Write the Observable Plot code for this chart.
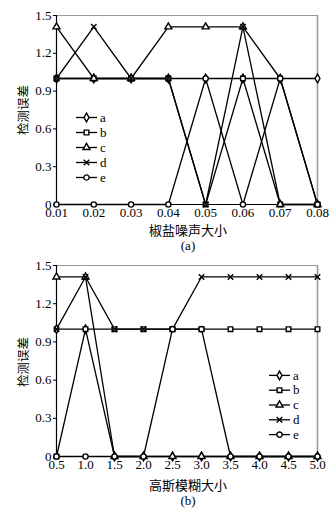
<!DOCTYPE html>
<html><head><meta charset="utf-8">
<script src="https://cdn.jsdelivr.net/npm/d3@7"></script>
<script src="https://cdn.jsdelivr.net/npm/@observablehq/plot@0.6"></script>
<style>
body{margin:0;background:#fff;}
#wrap{position:relative;width:335px;height:509px;font-family:"Liberation Serif","Times New Roman","DejaVu Serif",serif;color:#000;overflow:hidden;}
.panel{position:absolute;left:0;}
.cap{position:absolute;font-size:13px;white-space:nowrap;transform:translate(-50%,-50%);line-height:1;}
.ylab{position:absolute;font-size:12.5px;white-space:nowrap;transform:translate(-50%,-50%) rotate(-90deg);line-height:1;font-family:"Noto Sans CJK SC",sans-serif;}
.zh{font-family:"Noto Sans CJK SC",sans-serif;}
.leg{position:absolute;}
svg text{font-family:"Liberation Serif","Times New Roman","DejaVu Serif",serif;}
</style>
</head><body>
<div id="wrap"></div>
<script>
// ---- data ----
const seriesNames = ["a", "b", "c", "d", "e"];
const seriesSymbols = ["diamond", "square", "triangle", "times", "circle"];

// panel (a): salt & pepper noise level
const xA = [0.01, 0.02, 0.03, 0.04, 0.05, 0.06, 0.07, 0.08];
const xTickLabelsA = ["0.01", "0.02", "0.03", "0.04", "0.05", "0.06", "0.07", "0.08"];
const aA = [1, 1, 1, 1, 1, 1, 1, 1];
const bA = [1, 1, 1, 1, 0, 1, 0, 0];
const cA = [1.41, 1, 1, 1.41, 1.41, 1.41, 0, 0];
const dA = [1, 1.41, 1, 1, 0, 1.41, 1, 0];
const eA = [0, 0, 0, 0, 1, 0, 1, 0];

// panel (b): Gaussian blur level
const xB = [0.5, 1.0, 1.5, 2.0, 2.5, 3.0, 3.5, 4.0, 4.5, 5.0];
const xTickLabelsB = ["0.5", "1.0", "1.5", "2.0", "2.5", "3.0", "3.5", "4.0", "4.5", "5.0"];
const aB = [1, 1, 0, 0, 0, 0, 0, 0, 0, 0];
const bB = [0, 1, 1, 1, 1, 1, 1, 1, 1, 1];
const cB = [1.41, 1.41, 0, 0, 0, 0, 0, 0, 0, 0];
const dB = [1, 1.41, 1, 1, 1, 1.41, 1.41, 1.41, 1.41, 1.41];
const eB = [0, 0, 0, 0, 1, 1, 0, 0, 0, 0];

const yTicks = [0, 0.3, 0.6, 0.9, 1.2, 1.5];
const yTickLabels = ["0", "0.3", "0.6", "0.9", "1.2", "1.5"];

const xTitleA = "椒盐噪声大小";
const xTitleB = "高斯模糊大小";
const yTitle = "检测误差";

const SERIF = '"Liberation Serif", "Times New Roman", "DejaVu Serif", serif';

// ---- build ----
function tidy(xs, cols) {
  const rows = [];
  seriesNames.forEach((s, k) => xs.forEach((x, i) => rows.push({x, y: cols[k][i], s})));
  return rows;
}

function panel(xs, xLabels, cols, height, marginBottom) {
  const data = tidy(xs, cols);
  const x0 = xs[0], x1 = xs[xs.length - 1];
  return Plot.plot({
    width: 335, height,
    marginTop: 15, marginBottom, marginLeft: 56, marginRight: 18,
    style: {fontFamily: SERIF, fontSize: "13px", background: "white", color: "black"},
    x: {domain: [x0, x1]},
    y: {domain: [0, 1.5]},
    symbol: {domain: seriesNames, range: seriesSymbols},
    marks: [
      Plot.ruleY([1.5], {stroke: "#9a9a9a", strokeWidth: 1.2}),
      Plot.ruleX([x1], {stroke: "#9a9a9a", strokeWidth: 1.6}),
      Plot.axisX({ticks: xs, tickFormat: d => xLabels[xs.indexOf(d)], tickSize: 0, tickPadding: 3, label: null, fontSize: 13, fontFamily: SERIF}),
      Plot.axisY({ticks: yTicks, tickFormat: d => yTickLabels[yTicks.indexOf(d)], tickSize: 3, tickPadding: 2, label: null, fontSize: 13, fontFamily: SERIF}),
      Plot.line(data, {x: "x", y: "y", z: "s", stroke: "black", strokeWidth: 1.3}),
      Plot.ruleX([x0], {stroke: "black", strokeWidth: 1.2}),
      Plot.ruleY([0], {stroke: "black", strokeWidth: 1.2}),
      Plot.dot(data, {x: "x", y: "y", symbol: "s", r: 2.6, fill: "white", stroke: "black", strokeWidth: 1.4})
    ]
  });
}

function legend(left, top, gap) {
  const w = 40, h = gap * seriesNames.length;
  const svg = d3.create("svg").attr("width", w).attr("height", h)
    .attr("class", "leg").style("left", left + "px").style("top", top + "px").style("overflow", "visible");
  const sym = {diamond: d3.symbolDiamond, square: d3.symbolSquare, triangle: d3.symbolTriangle, times: d3.symbolTimes, circle: d3.symbolCircle};
  seriesNames.forEach((s, i) => {
    const cy = i * gap + gap / 2;
    const g = svg.append("g").attr("transform", `translate(0,${cy})`);
    g.append("line").attr("x1", 0).attr("x2", 21).attr("stroke", "black").attr("stroke-width", 1.3);
    g.append("path").attr("d", d3.symbol(sym[seriesSymbols[i]], 22)()).attr("transform", "translate(10.5,0)")
      .attr("fill", "white").attr("stroke", "black").attr("stroke-width", 1.4);
    g.append("text").attr("x", 24).attr("y", 0).attr("dy", "0.32em").attr("font-size", 13)
      .attr("font-family", SERIF).text(s);
  });
  return svg.node();
}

const wrap = document.getElementById("wrap");
const pA = panel(xA, xTickLabelsA, [aA, bA, cA, dA, eA], 250, 46);
pA.classList.add("panel"); pA.style.top = "0px";
wrap.appendChild(pA);
const pB = panel(xB, xTickLabelsB, [aB, bB, cB, dB, eB], 251, 45);
pB.classList.add("panel"); pB.style.top = "250px";
wrap.appendChild(pB);

wrap.appendChild(legend(76, 110, 15));
wrap.appendChild(legend(269, 367.5, 14.8));

function cap(text, x, y, cls) {
  const d = document.createElement("div");
  d.className = cls; d.textContent = text;
  d.style.left = x + "px"; d.style.top = y + "px";
  wrap.appendChild(d);
}
cap(xTitleA, 188, 229, "cap zh");
cap("(a)", 188, 245, "cap");
cap(xTitleB, 188, 484, "cap zh");
cap("(b)", 188, 500, "cap");
cap(yTitle, 23, 110, "ylab");
cap(yTitle, 23, 362, "ylab");
</script>
</body></html>
